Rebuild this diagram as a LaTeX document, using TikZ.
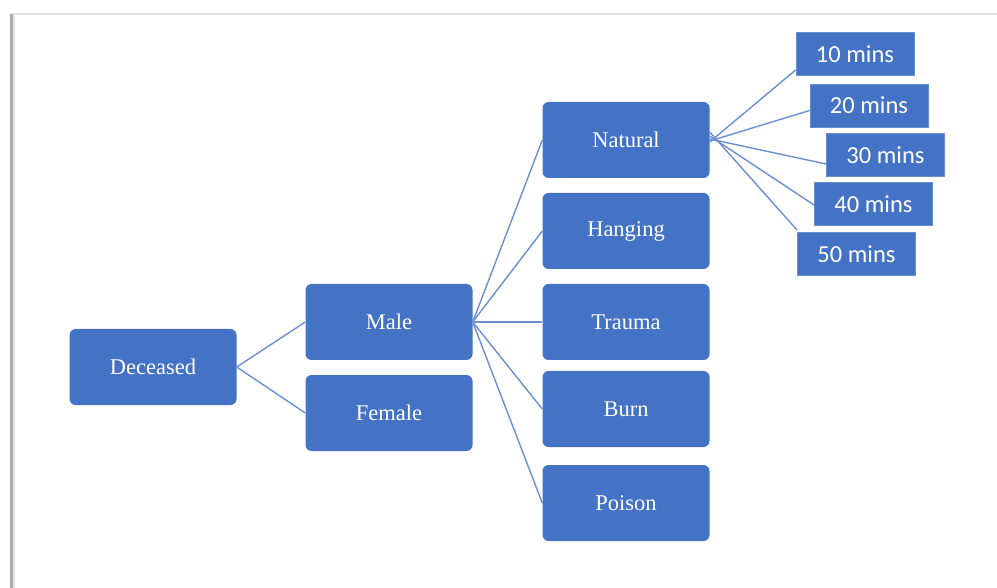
\documentclass[tikz,border=0pt]{standalone}
\usepackage{fontspec}
\setmainfont{Liberation Serif}
\newfontfamily\minsfont{Carlito}
\usetikzlibrary{calc}
\definecolor{boxblue}{HTML}{4472C4}
\definecolor{linkblue}{HTML}{6A8FD2}
\begin{document}
\begin{tikzpicture}[x=1pt,y=-1pt,
  catbox/.style={fill=boxblue, rounded corners=6pt, minimum width=167pt, minimum height=76pt,
    inner sep=0pt, text=white, font=\fontsize{22.5}{25}\selectfont},
  timebox/.style={fill=boxblue, draw=boxblue!80!white, line width=0.8pt, minimum width=118pt, minimum height=43pt,
    inner sep=0pt, text=white, font=\minsfont\fontsize{24.5}{27}\selectfont},
  link/.style={draw=linkblue, line width=1.4pt}]
  \useasboundingbox (0,0) rectangle (997,588);
  % page frame
  \draw[black!12, line width=1.5pt] (10,14) -- (997,14);
  \draw[black!32, line width=2.5pt] (11.5,14) -- (11.5,588);
  \draw[black!10, line width=1.5pt] (14,15) -- (14,588);

  % first level
  \node[catbox] (dec) at (153,367) {Deceased};
  \node[catbox] (male) at (389,322) {Male};
  \node[catbox] (female) at (389,413) {Female};

  % causes
  \node[catbox] (nat) at (626,140) {Natural};
  \node[catbox] (hang) at (626,231) {Hanging};
  \node[catbox] (trauma) at (626,322) {Trauma};
  \node[catbox] (burn) at (626,409) {Burn};
  \node[catbox] (poison) at (626,503) {Poison};

  % intervals
  \node[timebox] (m10) at (855,54) {10 mins};
  \node[timebox] (m20) at (869,105.5) {20 mins};
  \node[timebox] (m30) at (885.5,155) {30 mins};
  \node[timebox] (m40) at (873.5,204) {40 mins};
  \node[timebox] (m50) at (856.5,254) {50 mins};

  % connectors
  \draw[link] (dec.east) -- (male.west);
  \draw[link] (dec.east) -- (female.west);
  \foreach \c in {nat,hang,trauma,burn,poison}
    \draw[link] (male.east) -- (\c.west);
  \draw[link] ([yshift=-2pt]nat.east) -- ([yshift=-16pt]m10.west);
  \draw[link] ([yshift=-1pt]nat.east) -- ([yshift=-5pt]m20.west);
  \draw[link] ([yshift=1pt]nat.east) -- ([yshift=-9pt]m30.west);
  \draw[link] ([yshift=4pt]nat.east) -- ([yshift=-1pt]m40.west);
  \draw[link] ([yshift=8pt]nat.east) -- ([yshift=2pt]m50.north west);
\end{tikzpicture}
\end{document}
